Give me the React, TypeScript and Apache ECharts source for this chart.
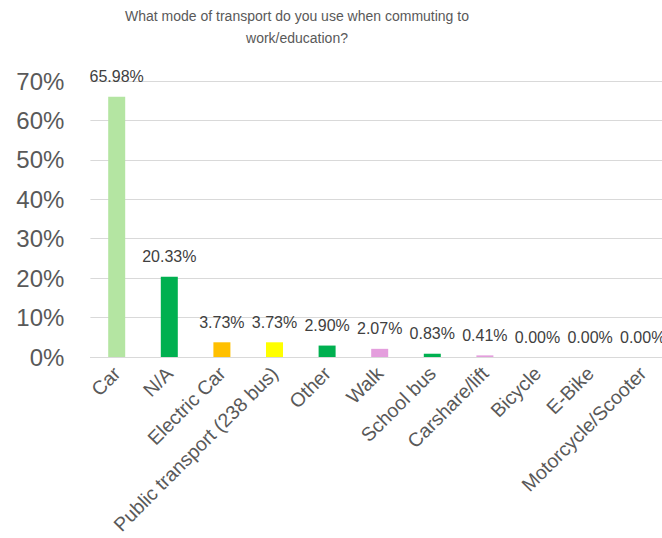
import React, { useEffect, useRef } from "react";
import * as echarts from "echarts";

const categories = [
  "Car",
  "N/A",
  "Electric Car",
  "Public transport (238 bus)",
  "Other",
  "Walk",
  "School bus",
  "Carshare/lift",
  "Bicycle",
  "E-Bike",
  "Motorcycle/Scooter",
];
const values = [65.98, 20.33, 3.73, 3.73, 2.9, 2.07, 0.83, 0.41, 0, 0, 0];
const barColors = [
  "#B4E5A2",
  "#00B050",
  "#FFC000",
  "#FFFF00",
  "#00B050",
  "#E49EDD",
  "#00B050",
  "#E49EDD",
  "#E49EDD",
  "#E49EDD",
  "#E49EDD",
];
const titleLines = [
  "What mode of transport do you use when commuting to",
  "work/education?",
];

const FONT = "Liberation Sans, Arial, sans-serif";

export default function App() {
  const ref = useRef<HTMLDivElement>(null);
  useEffect(() => {
    if (!ref.current) return;
    const chart = echarts.init(ref.current, undefined, { renderer: "svg" });
    chart.setOption({
      animation: false,
      backgroundColor: "#ffffff",
      graphic: [
        {
          type: "text",
          x: 297,
          y: 5,
          style: {
            text: titleLines.join("\n"),
            textAlign: "center",
            textVerticalAlign: "top",
            fontSize: 14,
            lineHeight: 22,
            fontFamily: FONT,
            fill: "#595959",
          },
        },
      ],
      grid: {
        left: 90.4,
        right: -7,
        top: 81,
        bottom: 181,
        containLabel: false,
        outerBoundsMode: "none",
      },
      xAxis: {
        type: "category",
        data: categories,
        axisLine: { lineStyle: { color: "#D9D9D9", width: 1 } },
        axisTick: { show: false },
        axisLabel: {
          interval: 0,
          rotate: 45,
          fontSize: 19.5,
          fontFamily: FONT,
          color: "#595959",
          margin: 13,
        },
      },
      yAxis: {
        type: "value",
        min: 0,
        max: 70,
        interval: 10,
        axisLine: { show: false },
        axisTick: { show: false },
        splitLine: { lineStyle: { color: "#D9D9D9", width: 1 } },
        axisLabel: {
          formatter: "{value}%",
          fontSize: 24,
          fontFamily: FONT,
          color: "#595959",
          margin: 26,
        },
      },
      series: [
        {
          type: "bar",
          data: values.map((v, i) => ({ value: v, itemStyle: { color: barColors[i] } })),
          barWidth: 17,
          label: {
            show: true,
            position: "top",
            distance: 12,
            formatter: (p: any) => p.value.toFixed(2) + "%",
            fontSize: 16,
            fontFamily: FONT,
            color: "#404040",
          },
        },
      ],
    });
    return () => chart.dispose();
  }, []);
  return (
    <div
      ref={ref}
      style={{ position: "absolute", left: 0, top: 0, width: 662, height: 538 }}
    />
  );
}
